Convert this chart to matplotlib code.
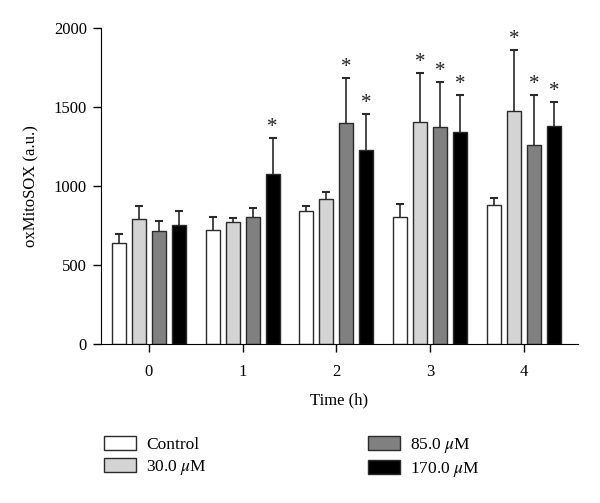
import matplotlib
matplotlib.use('Agg')
import matplotlib.pyplot as plt
import numpy as np

times = ['0', '1', '2', '3', '4']
series = ['Control', '30.0 $\\mu$M', '85.0 $\\mu$M', '170.0 $\\mu$M']
colors = ['#ffffff', '#d4d4d4', '#808080', '#000000']

control = [639, 721, 844, 804, 882]
conc_30 = [795, 774, 918, 1407, 1475]
conc_85 = [719, 806, 1403, 1373, 1261]
conc_170 = [755, 1078, 1232, 1344, 1384]

err_control = [57, 83, 33, 86, 46]
err_30 = [78, 27, 46, 310, 388]
err_85 = [63, 57, 281, 285, 319]
err_170 = [87, 230, 228, 232, 151]

# significance marks (series index, time index)
stars = [(3, 1), (2, 2), (3, 2), (1, 3), (2, 3), (3, 3), (1, 4), (2, 4), (3, 4)]

values = [control, conc_30, conc_85, conc_170]
errors = [err_control, err_30, err_85, err_170]

plt.rcParams['font.family'] = 'Liberation Serif'
plt.rcParams['mathtext.fontset'] = 'stix'

fig = plt.figure(figsize=(6, 5.03), dpi=100)
ax = fig.add_axes([0.168, 0.3155, 0.795, 0.628])

x = np.arange(len(times))
width = 0.149
step = 0.213
for i in range(4):
    pos = x + (i - 1.5) * step
    ax.bar(pos, values[i], width, color=colors[i], edgecolor='#2a2a2a',
           linewidth=1.0, label=series[i], zorder=2)
    # symmetric bars drawn behind the bars, so only the upper half shows
    ax.errorbar(pos, values[i], yerr=errors[i], fmt='none',
                ecolor='#2a2a2a', elinewidth=1.2, capsize=3, capthick=1.5, zorder=1)

for s, t in stars:
    ax.text(x[t] + (s - 1.5) * step, values[s][t] + errors[s][t] + 6, '*',
            ha='center', va='bottom', fontsize=15, color='#222222')

ax.set_xlim(-0.51, 4.57)
ax.set_ylim(0, 2000)
ax.set_xticks(x)
ax.set_xticklabels(times)
ax.set_yticks([0, 500, 1000, 1500, 2000])
ax.spines['top'].set_visible(False)
ax.spines['right'].set_visible(False)
ax.tick_params(labelsize=12, direction='out', length=6, width=1)
ax.tick_params(axis='x', pad=8)
ax.tick_params(axis='y', pad=4)
ax.set_xlabel('Time (h)', fontsize=12, labelpad=9)
ax.set_ylabel('oxMitoSOX (a.u.)', fontsize=12, labelpad=10)

handles, labels = ax.get_legend_handles_labels()
fig.legend(handles, labels, ncol=2, loc='upper left', bbox_to_anchor=(0.148, 0.165),
           frameon=False, fontsize=12.5, columnspacing=9.3, handlelength=1.8,
           handleheight=0.9, labelspacing=0.3, handletextpad=0.6)

fig.savefig('out.png', dpi=100)
